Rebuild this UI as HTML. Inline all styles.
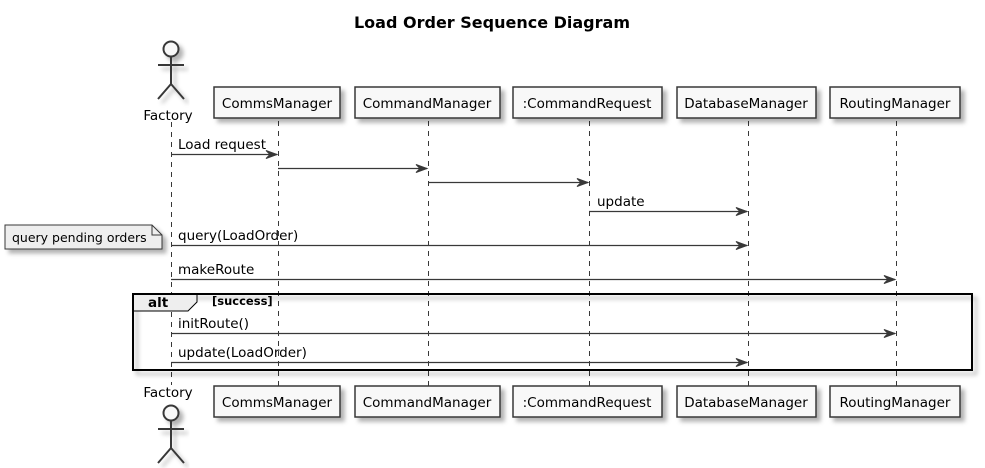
<!DOCTYPE html>
<html><head><style>body{margin:0;background:#fff}svg{display:block}text{font-family:"DejaVu Sans","Liberation Sans",sans-serif;font-size:13.5px;fill:#000}</style></head>
<body>
<svg width="985" height="468" xmlns="http://www.w3.org/2000/svg">
<defs>
<filter id="sh" x="-10%" y="-10%" width="130%" height="150%"><feDropShadow dx="4" dy="4" stdDeviation="2" flood-color="#000" flood-opacity="0.3"/></filter>
</defs>
<text x="492" y="28" text-anchor="middle" style="font-size:16px;font-weight:bold">Load Order Sequence Diagram</text>
<g stroke="#383838" stroke-width="1" stroke-dasharray="5,5">
<line x1="171.5" y1="122" x2="171.5" y2="385"/>
<line x1="278.5" y1="121" x2="278.5" y2="386"/>
<line x1="428.5" y1="121" x2="428.5" y2="386"/>
<line x1="589.5" y1="121" x2="589.5" y2="386"/>
<line x1="748.5" y1="121" x2="748.5" y2="386"/>
<line x1="896.5" y1="121" x2="896.5" y2="386"/>
</g>
<g fill="#f8f8f8" stroke="#383838" stroke-width="1.5" filter="url(#sh)">
<rect x="214" y="87" width="126" height="31"/><rect x="355" y="87" width="145" height="31"/>
<rect x="513" y="87" width="149" height="31"/><rect x="677" y="87" width="139" height="31"/>
<rect x="830" y="87" width="130" height="31"/>
<rect x="214" y="386" width="126" height="31"/><rect x="355" y="386" width="145" height="31"/>
<rect x="513" y="386" width="149" height="31"/><rect x="677" y="386" width="139" height="31"/>
<rect x="830" y="386" width="130" height="31"/>
</g>
<g text-anchor="middle">
<text x="277" y="108">CommsManager</text><text x="427" y="108">CommandManager</text>
<text x="587" y="108">:CommandRequest</text><text x="746" y="108">DatabaseManager</text>
<text x="895" y="108">RoutingManager</text>
<text x="277" y="407">CommsManager</text><text x="427" y="407">CommandManager</text>
<text x="587" y="407">:CommandRequest</text><text x="746" y="407">DatabaseManager</text>
<text x="895" y="407">RoutingManager</text>
<text x="168" y="120">Factory</text><text x="168" y="397">Factory</text>
</g>
<g fill="#f8f8f8" stroke="#383838" stroke-width="2" filter="url(#sh)">
<circle cx="171" cy="49" r="7.5"/>
<path d="M171 57V84M158 65H184M158 99L171 84L184 99" fill="none"/>
<circle cx="171" cy="413" r="7.5"/>
<path d="M171 421V448M158 429H184M158 463L171 448L184 463" fill="none"/>
</g>
<path d="M5 225H152L162 235V249H5Z" fill="#eeeeee" stroke="#383838" filter="url(#sh)"/>
<path d="M152 225V235H162" fill="none" stroke="#383838"/>
<text x="12" y="242" style="font-size:12.5px">query pending orders</text>
<g stroke="#383838" stroke-width="1.2">
<line x1="171" y1="154.5" x2="277" y2="154.5"/>
<line x1="278" y1="168.5" x2="427" y2="168.5"/>
<line x1="428" y1="182.5" x2="588" y2="182.5"/>
<line x1="589" y1="211.5" x2="747" y2="211.5"/>
<line x1="171" y1="245.5" x2="747" y2="245.5"/>
<line x1="171" y1="279.5" x2="895" y2="279.5"/>
<line x1="171" y1="333.5" x2="895" y2="333.5"/>
<line x1="171" y1="362.5" x2="747" y2="362.5"/>
</g>
<g fill="#383838" stroke="#383838" stroke-width="1">
<path d="M266 150.5L277 154.5L266 158.5L270 154.5Z"/>
<path d="M416 164.5L427 168.5L416 172.5L420 168.5Z"/>
<path d="M577 178.5L588 182.5L577 186.5L581 182.5Z"/>
<path d="M736 207.5L747 211.5L736 215.5L740 211.5Z"/>
<path d="M736 241.5L747 245.5L736 249.5L740 245.5Z"/>
<path d="M884 275.5L895 279.5L884 283.5L888 279.5Z"/>
<path d="M884 329.5L895 333.5L884 337.5L888 333.5Z"/>
<path d="M736 358.5L747 362.5L736 366.5L740 362.5Z"/>
</g>
<text x="178" y="149">Load request</text>
<text x="597" y="206">update</text>
<text x="178" y="240">query(LoadOrder)</text>
<text x="178" y="274">makeRoute</text>
<text x="178" y="328">initRoute()</text>
<text x="178" y="357">update(LoadOrder)</text>
<rect x="133" y="294" width="839" height="76" fill="none" stroke="#000" stroke-width="2" filter="url(#sh)"/>
<path d="M133 294H197V302L188 311H133Z" fill="#eeeeee" stroke="#000" stroke-width="1"/>
<rect x="133" y="294" width="839" height="76" fill="none" stroke="#000" stroke-width="2"/>
<text x="148" y="307" style="font-weight:bold">alt</text>
<text x="212" y="305" style="font-weight:bold;font-size:11.5px">[success]</text>
</svg>
</body></html>
